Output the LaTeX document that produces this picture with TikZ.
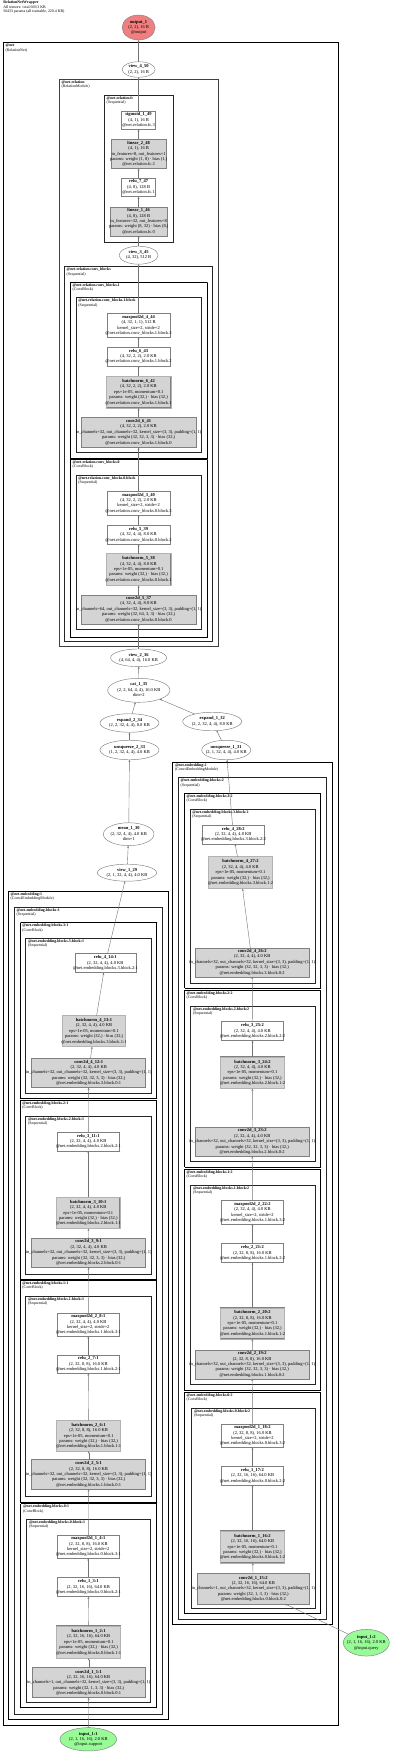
\documentclass[tikz,border=0pt]{standalone}
\usepackage{fontspec}
\setmainfont{Liberation Serif}
\usetikzlibrary{shapes.geometric,arrows.meta}
\definecolor{outred}{HTML}{F08080}
\definecolor{ingreen}{HTML}{98FB98}
\newcommand\tx[1]{\makebox[0pt]{\begin{tabular}{@{}c@{}}#1\end{tabular}}}
\newcommand\clu[8]{\draw[#1] (#2,#3) rectangle (#4,#5); \node[cllab] (#6) at (#2+2.4,#3+1.5) {\textbf{#7}\\(#8)};}
\tikzset{
  every node/.style={font=\fontsize{4.5}{5.4}\selectfont, inner sep=0pt, outer sep=0pt},
  nbase/.style={rectangle, draw=black!50, line width=0.45pt},
  wbox/.style={nbase, fill=white},
  gbox/.style={nbase, fill=black!17},
  bnbox/.style={rectangle, draw=black!50, double=black!30, double distance=0.7pt, line width=0.35pt, fill=black!17},
  oval/.style={ellipse, draw=black!50, line width=0.45pt, fill=white},
  netcl/.style={draw=black, line width=1.3pt},
  relcl/.style={draw=black!75, line width=1.5pt},
  seqcl/.style={draw=black!85, line width=0.9pt},
  cbcl/.style={draw=black, line width=0.7pt, dash pattern=on 0.4pt off 0.6pt},
  embcl/.style={draw=black, line width=1pt, dash pattern=on 0.45pt off 0.5pt},
  cllab/.style={anchor=north west, align=left, font=\fontsize{3.9}{4.4}\selectfont},
  conn/.style={draw=black!55, line width=0.4pt, -{Stealth[length=2.2pt,width=1.8pt]}},
}
\begin{document}
\begin{tikzpicture}[x=1pt,y=-1pt]
\useasboundingbox (0,0) rectangle (400,1755);
\node[anchor=north west, align=left, font=\fontsize{3.9}{4.4}\selectfont] (title) at (3.3,1.2) {\textbf{RelationNetWrapper}\\All tensors: total 669.3 KB\\56433 params (all trainable, 220.4 KB)};
% clusters
\clu{netcl}{3.3}{42.7}{338.3}{1725.3}{c0}{@net}{RelationNet}
\clu{relcl}{59.3}{79.3}{218.3}{646.3}{c1}{@net.relation}{RelationModule}
\clu{seqcl}{104.3}{95}{173}{242}{c2}{@net.relation.fc}{Sequential}
\clu{seqcl}{64.3}{266.7}{212.7}{641.3}{c3}{@net.relation.conv\_blocks}{Sequential}
\clu{cbcl}{70.3}{282}{207.3}{458}{c4}{@net.relation.conv\_blocks.1}{ConvBlock}
\clu{seqcl}{76}{297.7}{201.7}{452.3}{c5}{@net.relation.conv\_blocks.1.block}{Sequential}
\clu{cbcl}{70.3}{459.3}{207.3}{637.3}{c6}{@net.relation.conv\_blocks.0}{ConvBlock}
\clu{seqcl}{76}{475.3}{201.7}{629}{c7}{@net.relation.conv\_blocks.0.block}{Sequential}
% right embedding
\clu{embcl}{172.7}{762.3}{332.7}{1624.3}{c8}{@net.embedding:2}{Conv4EmbeddingModule}
\clu{seqcl}{178.3}{777.7}{326.7}{1619.3}{c9}{@net.embedding.blocks:2}{Sequential}
\clu{cbcl}{184.3}{793.3}{320.7}{988}{c10}{@net.embedding.blocks.3:2}{ConvBlock}
\clu{seqcl}{190}{809}{315}{983.3}{c11}{@net.embedding.blocks.3.block:2}{Sequential}
\clu{cbcl}{184.3}{990.3}{320.7}{1167}{c12}{@net.embedding.blocks.2:2}{ConvBlock}
\clu{seqcl}{190.7}{1006}{315}{1161.3}{c13}{@net.embedding.blocks.2.block:2}{Sequential}
\clu{cbcl}{184.3}{1169}{320.7}{1390}{c14}{@net.embedding.blocks.1:2}{ConvBlock}
\clu{seqcl}{190.7}{1185.3}{315}{1384.7}{c15}{@net.embedding.blocks.1.block:2}{Sequential}
\clu{cbcl}{184.3}{1392.3}{320.7}{1613.3}{c16}{@net.embedding.blocks.0:2}{ConvBlock}
\clu{seqcl}{191.7}{1408.3}{315}{1608.7}{c17}{@net.embedding.blocks.0.block:2}{Sequential}
% left embedding
\clu{embcl}{8.3}{891}{168.3}{1719.3}{c18}{@net.embedding:1}{Conv4EmbeddingModule}
\clu{seqcl}{14.3}{907}{162.7}{1714.3}{c19}{@net.embedding.blocks:1}{Sequential}
\clu{cbcl}{20}{922.7}{156.7}{1098}{c20}{@net.embedding.blocks.3:1}{ConvBlock}
\clu{seqcl}{25.7}{938}{151}{1093.7}{c21}{@net.embedding.blocks.3.block:1}{Sequential}
\clu{cbcl}{20}{1100.3}{156.7}{1279}{c22}{@net.embedding.blocks.2:1}{ConvBlock}
\clu{seqcl}{25.7}{1116.3}{151}{1274}{c23}{@net.embedding.blocks.2.block:1}{Sequential}
\clu{cbcl}{20}{1280.3}{156.7}{1502.7}{c24}{@net.embedding.blocks.1:1}{ConvBlock}
\clu{seqcl}{25.7}{1296.3}{151}{1496}{c25}{@net.embedding.blocks.1.block:1}{Sequential}
\clu{cbcl}{20.7}{1503.7}{156}{1707.7}{c26}{@net.embedding.blocks.0:1}{ConvBlock}
\clu{seqcl}{26.7}{1519.3}{150}{1702.7}{c27}{@net.embedding.blocks.0.block:1}{Sequential}
% main column
\node[oval, fill=outred, minimum width=33pt, minimum height=25pt] (out) at (138.6,27.5) {\tx{\textbf{output\_1}\\(2, 2), 16 B\\@output}};
\node[oval, minimum width=33pt, minimum height=15.6pt] (v4) at (138.6,69.5) {\tx{\textbf{view\_4\_50}\\(2, 2), 16 B}};
\node[wbox, minimum width=34pt, minimum height=18.3pt] (sig) at (138.6,120.2) {\tx{\textbf{sigmoid\_1\_49}\\(4, 1), 16 B\\@net.relation.fc.3}};
\node[gbox, minimum width=55.7pt, minimum height=29.4pt] (lin2) at (138.6,154) {\tx{\textbf{linear\_2\_48}\\(4, 1), 16 B\\in\_features=8, out\_features=1\\params: weight (1, 8) · bias (1,)\\@net.relation.fc.2}};
\node[wbox, minimum width=34pt, minimum height=18.7pt] (relu7) at (138.6,187.3) {\tx{\textbf{relu\_7\_47}\\(4, 8), 128 B\\@net.relation.fc.1}};
\node[gbox, minimum width=56.7pt, minimum height=29pt] (lin1) at (138.6,221.5) {\tx{\textbf{linear\_1\_46}\\(4, 8), 128 B\\in\_features=32, out\_features=8\\params: weight (8, 32) · bias (8,)\\@net.relation.fc.0}};
\node[oval, minimum width=39pt, minimum height=18pt] (v3) at (138.6,255.2) {\tx{\textbf{view\_3\_45}\\(4, 32), 512 B}};
\node[wbox, minimum width=62.3pt, minimum height=23.3pt] (mp4) at (138.6,325.3) {\tx{\textbf{maxpool2d\_4\_44}\\(4, 32, 1, 1), 512 B\\kernel\_size=2, stride=2\\@net.relation.conv\_blocks.1.block.3}};
\node[wbox, minimum width=62.3pt, minimum height=19pt] (relu6) at (138.6,356.5) {\tx{\textbf{relu\_6\_43}\\(4, 32, 2, 2), 2.0 KB\\@net.relation.conv\_blocks.1.block.2}};
\node[bnbox, minimum width=64.7pt, minimum height=31.7pt] (bn6) at (138.6,392.2) {\tx{\textbf{batchnorm\_6\_42}\\(4, 32, 2, 2), 2.0 KB\\eps=1e-05, momentum=0.1\\params: weight (32,) · bias (32,)\\@net.relation.conv\_blocks.1.block.1}};
\node[gbox, minimum width=114.3pt, minimum height=30pt] (conv6) at (138.6,432.3) {\tx{\textbf{conv2d\_6\_41}\\(4, 32, 2, 2), 2.0 KB\\in\_channels=32, out\_channels=32, kernel\_size=(3, 3), padding=(1, 1)\\params: weight (32, 32, 3, 3) · bias (32,)\\@net.relation.conv\_blocks.1.block.0}};
\node[wbox, minimum width=62.3pt, minimum height=24pt] (mp3) at (138.6,503.2) {\tx{\textbf{maxpool2d\_3\_40}\\(4, 32, 2, 2), 2.0 KB\\kernel\_size=2, stride=2\\@net.relation.conv\_blocks.0.block.3}};
\node[wbox, minimum width=62.3pt, minimum height=18.7pt] (relu5) at (138.6,534.7) {\tx{\textbf{relu\_5\_39}\\(4, 32, 4, 4), 8.0 KB\\@net.relation.conv\_blocks.0.block.2}};
\node[bnbox, minimum width=64.7pt, minimum height=32pt] (bn5) at (138.6,569.5) {\tx{\textbf{batchnorm\_5\_38}\\(4, 32, 4, 4), 8.0 KB\\eps=1e-05, momentum=0.1\\params: weight (32,) · bias (32,)\\@net.relation.conv\_blocks.0.block.1}};
\node[gbox, minimum width=114.3pt, minimum height=29pt] (conv5) at (138.6,609.3) {\tx{\textbf{conv2d\_5\_37}\\(4, 32, 4, 4), 8.0 KB\\in\_channels=64, out\_channels=32, kernel\_size=(3, 3), padding=(1, 1)\\params: weight (32, 64, 3, 3) · bias (32,)\\@net.relation.conv\_blocks.0.block.0}};
\node[oval, minimum width=56pt, minimum height=17.7pt] (v2) at (138.6,657.8) {\tx{\textbf{view\_2\_36}\\(4, 64, 4, 4), 16.0 KB}};
\node[oval, minimum width=62.3pt, minimum height=24pt] (cat) at (138.8,690.3) {\tx{\textbf{cat\_1\_35}\\(2, 2, 64, 4, 4), 16.0 KB\\dim=2}};
\node[oval, minimum width=59pt, minimum height=18.5pt] (exp2) at (129.5,723) {\tx{\textbf{expand\_2\_34}\\(2, 2, 32, 4, 4), 8.0 KB}};
\node[oval, minimum width=59pt, minimum height=18.5pt] (exp1) at (212.2,721.5) {\tx{\textbf{expand\_1\_32}\\(2, 2, 32, 4, 4), 8.0 KB}};
\node[oval, minimum width=59pt, minimum height=19.5pt] (unsq2) at (129.5,750) {\tx{\textbf{unsqueeze\_2\_33}\\(1, 2, 32, 4, 4), 4.0 KB}};
\node[oval, minimum width=49pt, minimum height=19.5pt] (unsq1) at (226.2,750) {\tx{\textbf{unsqueeze\_1\_31}\\(2, 1, 32, 4, 4), 4.0 KB}};
\node[oval, minimum width=50.7pt, minimum height=21.7pt] (mean) at (128.7,834.2) {\tx{\textbf{mean\_1\_30}\\(2, 32, 4, 4), 4.0 KB\\dim=1}};
\node[oval, minimum width=59.3pt, minimum height=17pt] (v1) at (127,872.7) {\tx{\textbf{view\_1\_29}\\(2, 1, 32, 4, 4), 4.0 KB}};
% right column
\node[wbox, minimum width=62pt, minimum height=19pt] (relu4b) at (233.3,834.5) {\tx{\textbf{relu\_4\_28:2}\\(2, 32, 4, 4), 4.0 KB\\@net.embedding.blocks.3.block.2:2}};
\node[bnbox, minimum width=64.3pt, minimum height=32pt] (bn4b) at (240.5,872.7) {\tx{\textbf{batchnorm\_4\_27:2}\\(2, 32, 4, 4), 4.0 KB\\eps=1e-05, momentum=0.1\\params: weight (32,) · bias (32,)\\@net.embedding.blocks.3.block.1:2}};
\node[gbox, minimum width=114.3pt, minimum height=29pt] (conv4b) at (252.2,962.3) {\tx{\textbf{conv2d\_4\_26:2}\\(2, 32, 4, 4), 4.0 KB\\in\_channels=32, out\_channels=32, kernel\_size=(3, 3), padding=(1, 1)\\params: weight (32, 32, 3, 3) · bias (32,)\\@net.embedding.blocks.3.block.0:2}};
\node[wbox, minimum width=61.7pt, minimum height=18.7pt] (relu3b) at (252.5,1031) {\tx{\textbf{relu\_3\_25:2}\\(2, 32, 4, 4), 4.0 KB\\@net.embedding.blocks.2.block.2:2}};
\node[bnbox, minimum width=63.7pt, minimum height=31.7pt] (bn3b) at (252.5,1072.8) {\tx{\textbf{batchnorm\_3\_24:2}\\(2, 32, 4, 4), 4.0 KB\\eps=1e-05, momentum=0.1\\params: weight (32,) · bias (32,)\\@net.embedding.blocks.2.block.1:2}};
\node[gbox, minimum width=114.3pt, minimum height=29.3pt] (conv3b) at (252.2,1141.7) {\tx{\textbf{conv2d\_3\_23:2}\\(2, 32, 4, 4), 4.0 KB\\in\_channels=32, out\_channels=32, kernel\_size=(3, 3), padding=(1, 1)\\params: weight (32, 32, 3, 3) · bias (32,)\\@net.embedding.blocks.2.block.0:2}};
\node[wbox, minimum width=61.7pt, minimum height=23.3pt] (mp2b) at (252.5,1212.3) {\tx{\textbf{maxpool2d\_2\_22:2}\\(2, 32, 4, 4), 4.0 KB\\kernel\_size=2, stride=2\\@net.embedding.blocks.1.block.3:2}};
\node[wbox, minimum width=61.7pt, minimum height=18.7pt] (relu2b) at (252.5,1253) {\tx{\textbf{relu\_2\_21:2}\\(2, 32, 8, 8), 16.0 KB\\@net.embedding.blocks.1.block.2:2}};
\node[bnbox, minimum width=63.7pt, minimum height=31pt] (bn2b) at (252.5,1323.5) {\tx{\textbf{batchnorm\_2\_20:2}\\(2, 32, 8, 8), 16.0 KB\\eps=1e-05, momentum=0.1\\params: weight (32,) · bias (32,)\\@net.embedding.blocks.1.block.1:2}};
\node[gbox, minimum width=114.3pt, minimum height=29pt] (conv2b) at (252.2,1364.5) {\tx{\textbf{conv2d\_2\_19:2}\\(2, 32, 8, 8), 16.0 KB\\in\_channels=32, out\_channels=32, kernel\_size=(3, 3), padding=(1, 1)\\params: weight (32, 32, 3, 3) · bias (32,)\\@net.embedding.blocks.1.block.0:2}};
\node[wbox, minimum width=61.7pt, minimum height=23.3pt] (mp1b) at (252.5,1435.7) {\tx{\textbf{maxpool2d\_1\_18:2}\\(2, 32, 8, 8), 16.0 KB\\kernel\_size=2, stride=2\\@net.embedding.blocks.0.block.3:2}};
\node[wbox, minimum width=61.7pt, minimum height=18.3pt] (relu1b) at (252.5,1475.8) {\tx{\textbf{relu\_1\_17:2}\\(2, 32, 16, 16), 64.0 KB\\@net.embedding.blocks.0.block.2:2}};
\node[bnbox, minimum width=63.7pt, minimum height=32pt] (bn1b) at (252.5,1547) {\tx{\textbf{batchnorm\_1\_16:2}\\(2, 32, 16, 16), 64.0 KB\\eps=1e-05, momentum=0.1\\params: weight (32,) · bias (32,)\\@net.embedding.blocks.0.block.1:2}};
\node[gbox, minimum width=112pt, minimum height=30.5pt] (conv1b) at (253.3,1588.7) {\tx{\textbf{conv2d\_1\_15:2}\\(2, 32, 16, 16), 64.0 KB\\in\_channels=1, out\_channels=32, kernel\_size=(3, 3), padding=(1, 1)\\params: weight (32, 1, 3, 3) · bias (32,)\\@net.embedding.blocks.0.block.0:2}};
\node[oval, fill=ingreen, minimum width=46pt, minimum height=26.7pt] (inb) at (366.3,1642.7) {\tx{\textbf{input\_1:2}\\(2, 1, 16, 16), 2.0 KB\\@input.query}};
% left column
\node[wbox, minimum width=61pt, minimum height=19.3pt] (relu4a) at (105.3,963) {\tx{\textbf{relu\_4\_14:1}\\(2, 32, 4, 4), 4.0 KB\\@net.embedding.blocks.3.block.2:1}};
\node[bnbox, minimum width=63.3pt, minimum height=31pt] (bn4a) at (94,1031.2) {\tx{\textbf{batchnorm\_4\_13:1}\\(2, 32, 4, 4), 4.0 KB\\eps=1e-05, momentum=0.1\\params: weight (32,) · bias (32,)\\@net.embedding.blocks.3.block.1:1}};
\node[gbox, minimum width=114pt, minimum height=29.7pt] (conv4a) at (88.7,1072.8) {\tx{\textbf{conv2d\_4\_12:1}\\(2, 32, 4, 4), 4.0 KB\\in\_channels=32, out\_channels=32, kernel\_size=(3, 3), padding=(1, 1)\\params: weight (32, 32, 3, 3) · bias (32,)\\@net.embedding.blocks.3.block.0:1}};
\node[wbox, minimum width=62pt, minimum height=19pt] (relu3a) at (88.3,1141.5) {\tx{\textbf{relu\_3\_11:1}\\(2, 32, 4, 4), 4.0 KB\\@net.embedding.blocks.2.block.2:1}};
\node[bnbox, minimum width=63.3pt, minimum height=31.3pt] (bn3a) at (88.3,1213) {\tx{\textbf{batchnorm\_3\_10:1}\\(2, 32, 4, 4), 4.0 KB\\eps=1e-05, momentum=0.1\\params: weight (32,) · bias (32,)\\@net.embedding.blocks.2.block.1:1}};
\node[gbox, minimum width=114pt, minimum height=29.3pt] (conv3a) at (88.7,1252.7) {\tx{\textbf{conv2d\_3\_9:1}\\(2, 32, 4, 4), 4.0 KB\\in\_channels=32, out\_channels=32, kernel\_size=(3, 3), padding=(1, 1)\\params: weight (32, 32, 3, 3) · bias (32,)\\@net.embedding.blocks.2.block.0:1}};
\node[wbox, minimum width=62pt, minimum height=23.3pt] (mp2a) at (88.3,1324.7) {\tx{\textbf{maxpool2d\_2\_8:1}\\(2, 32, 4, 4), 4.0 KB\\kernel\_size=2, stride=2\\@net.embedding.blocks.1.block.3:1}};
\node[wbox, minimum width=62pt, minimum height=18.3pt] (relu2a) at (88.3,1364.2) {\tx{\textbf{relu\_2\_7:1}\\(2, 32, 8, 8), 16.0 KB\\@net.embedding.blocks.1.block.2:1}};
\node[bnbox, minimum width=64pt, minimum height=30.7pt] (bn2a) at (88.7,1436) {\tx{\textbf{batchnorm\_2\_6:1}\\(2, 32, 8, 8), 16.0 KB\\eps=1e-05, momentum=0.1\\params: weight (32,) · bias (32,)\\@net.embedding.blocks.1.block.1:1}};
\node[gbox, minimum width=114pt, minimum height=29.7pt] (conv2a) at (88.7,1474.5) {\tx{\textbf{conv2d\_2\_5:1}\\(2, 32, 8, 8), 16.0 KB\\in\_channels=32, out\_channels=32, kernel\_size=(3, 3), padding=(1, 1)\\params: weight (32, 32, 3, 3) · bias (32,)\\@net.embedding.blocks.1.block.0:1}};
\node[wbox, minimum width=62pt, minimum height=23.3pt] (mp1a) at (88.3,1546.7) {\tx{\textbf{maxpool2d\_1\_4:1}\\(2, 32, 8, 8), 16.0 KB\\kernel\_size=2, stride=2\\@net.embedding.blocks.0.block.3:1}};
\node[wbox, minimum width=62pt, minimum height=19.3pt] (relu1a) at (88.3,1587) {\tx{\textbf{relu\_1\_3:1}\\(2, 32, 16, 16), 64.0 KB\\@net.embedding.blocks.0.block.2:1}};
\node[bnbox, minimum width=64pt, minimum height=32.3pt] (bn1a) at (88.7,1642.2) {\tx{\textbf{batchnorm\_1\_2:1}\\(2, 32, 16, 16), 64.0 KB\\eps=1e-05, momentum=0.1\\params: weight (32,) · bias (32,)\\@net.embedding.blocks.0.block.1:1}};
\node[gbox, minimum width=112.7pt, minimum height=30pt] (conv1a) at (88.7,1682.7) {\tx{\textbf{conv2d\_1\_1:1}\\(2, 32, 16, 16), 64.0 KB\\in\_channels=1, out\_channels=32, kernel\_size=(3, 3), padding=(1, 1)\\params: weight (32, 1, 3, 3) · bias (32,)\\@net.embedding.blocks.0.block.0:1}};
\node[oval, fill=ingreen, minimum width=56.7pt, minimum height=23.3pt] (ina) at (88.3,1739.3) {\tx{\textbf{input\_1:1}\\(2, 1, 16, 16), 2.0 KB\\@input.support}};
% connectors
\foreach \a/\b in {ina/conv1a, conv1a/bn1a, bn1a/relu1a, relu1a/mp1a, mp1a/conv2a, conv2a/bn2a, bn2a/relu2a, relu2a/mp2a, mp2a/conv3a, conv3a/bn3a, bn3a/relu3a, relu3a/conv4a, conv4a/bn4a, bn4a/relu4a, relu4a/v1, v1/mean, mean/unsq2, unsq2/exp2, exp2/cat,
  inb/conv1b, conv1b/bn1b, bn1b/relu1b, relu1b/mp1b, mp1b/conv2b, conv2b/bn2b, bn2b/relu2b, relu2b/mp2b, mp2b/conv3b, conv3b/bn3b, bn3b/relu3b, relu3b/conv4b, conv4b/bn4b, bn4b/relu4b, relu4b/unsq1, unsq1/exp1, exp1/cat,
  cat/v2, v2/conv5, conv5/bn5, bn5/relu5, relu5/mp3, mp3/conv6, conv6/bn6, bn6/relu6, relu6/mp4, mp4/v3, v3/lin1, lin1/relu7, relu7/lin2, lin2/sig, sig/v4, v4/out}
  \draw[conn] (\a) -- (\b);
\end{tikzpicture}
\end{document}
